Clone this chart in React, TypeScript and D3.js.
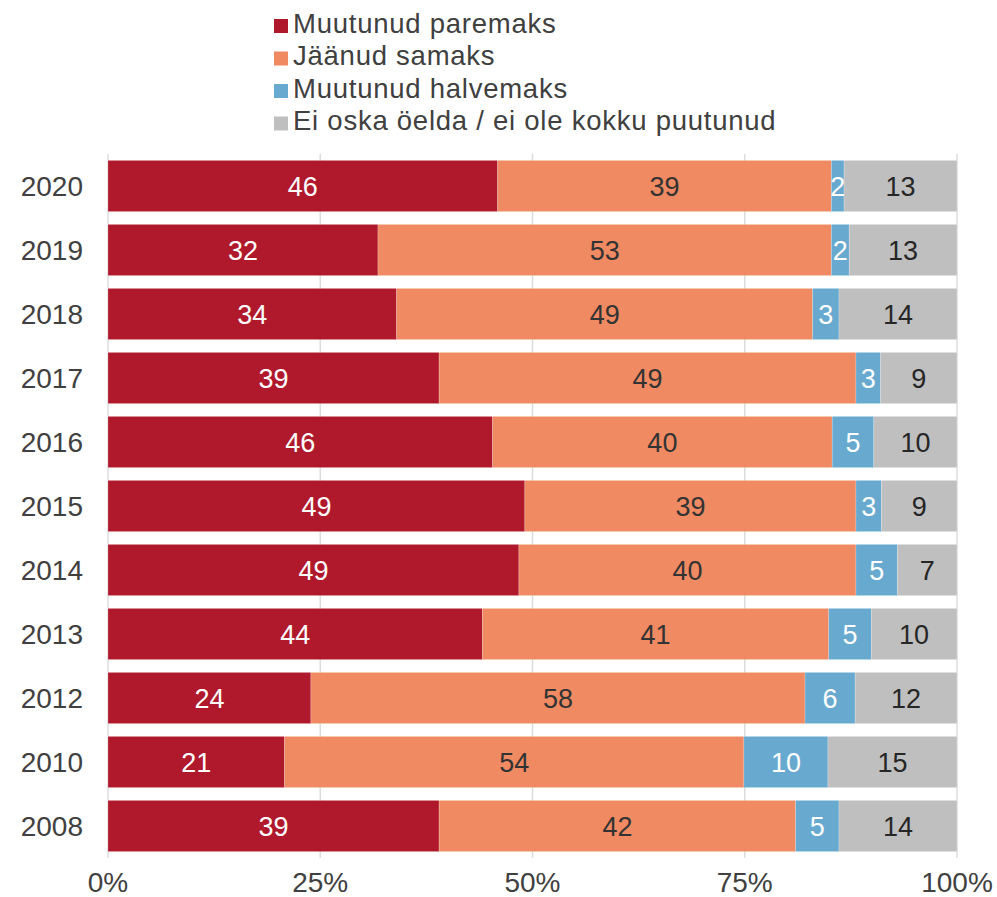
import React from "react";
import * as d3 from "d3";

const years = ["2020", "2019", "2018", "2017", "2016", "2015", "2014", "2013", "2012", "2010", "2008"];
// segment shares as measured from the bars
const better = [45.9, 31.8, 34.0, 39.0, 45.3, 49.1, 48.4, 44.1, 23.9, 20.8, 39.0];
const same = [39.3, 53.4, 49.0, 49.1, 40.0, 39.0, 39.7, 40.8, 58.2, 54.1, 42.0];
const worse = [1.5, 2.1, 3.1, 2.9, 4.9, 3.0, 4.9, 5.0, 5.9, 9.9, 5.1];
const dontKnow = [13.3, 12.7, 13.9, 9.0, 9.8, 8.9, 7.0, 10.1, 12.0, 15.2, 13.9];
// printed labels
const betterLabels = [46, 32, 34, 39, 46, 49, 49, 44, 24, 21, 39];
const sameLabels = [39, 53, 49, 49, 40, 39, 40, 41, 58, 54, 42];
const worseLabels = [2, 2, 3, 3, 5, 3, 5, 5, 6, 10, 5];
const dontKnowLabels = [13, 13, 14, 9, 10, 9, 7, 10, 12, 15, 14];

const seriesNames = ["Muutunud paremaks", "Jäänud samaks", "Muutunud halvemaks", "Ei oska öelda / ei ole kokku puutunud"];
const seriesColors = ["#b0182c", "#f08a62", "#67a9cf", "#bfbfbf"];
const labelColors = ["#ffffff", "#333333", "#ffffff", "#262626"];
const ticks = [0, 25, 50, 75, 100];

const W = 997;
const H = 897;
const FONT = "'Liberation Sans', Arial, Helvetica, sans-serif";

export default function App() {
  const x = d3.scaleLinear().domain([0, 100]).range([108, 957]);
  const y = d3.scaleBand<string>().domain(years).range([154, 858]).paddingInner(0.2).paddingOuter(0.1);

  const values = [better, same, worse, dontKnow];
  const labels = [betterLabels, sameLabels, worseLabels, dontKnowLabels];
  const rows = years.map((yr, i) => {
    const obj: any = { year: yr };
    values.forEach((v, k) => (obj["s" + k] = v[i]));
    return obj;
  });
  const stack = d3.stack<any>().keys(["s0", "s1", "s2", "s3"]).offset(d3.stackOffsetExpand);
  const stacked = stack(rows);

  return (
    <svg width={W} height={H} style={{ position: "absolute", left: 0, top: 0, fontFamily: FONT }}>
      {/* gridlines */}
      {ticks.map((t) => (
        <line key={"g" + t} x1={x(t)} x2={x(t)} y1={154} y2={858} stroke="#dcdcdc" strokeWidth={1.5} />
      ))}
      {/* bars */}
      {stacked.map((layer, k) => (
        <g key={"l" + k}>
          {layer.map((d, i) => {
            const x0 = x(d[0] * 100);
            const x1 = x(d[1] * 100);
            const yy = y(years[i])!;
            return (
              <g key={i}>
                <rect x={x0} y={yy} width={x1 - x0} height={y.bandwidth()} fill={seriesColors[k]} stroke="#ffffff" strokeOpacity={0.35} strokeWidth={0.6} />
                <text
                  x={(x0 + x1) / 2}
                  y={yy + y.bandwidth() / 2}
                  dy="0.36em"
                  textAnchor="middle"
                  fontSize={27}
                  fill={labelColors[k]}
                >
                  {labels[k][i]}
                </text>
              </g>
            );
          })}
        </g>
      ))}
      {/* year labels */}
      {years.map((yr) => (
        <text key={"y" + yr} x={83} y={y(yr)! + y.bandwidth() / 2} dy="0.36em" textAnchor="end" fontSize={28} fill="#404040">
          {yr}
        </text>
      ))}
      {/* x tick labels */}
      {ticks.map((t) => (
        <text key={"t" + t} x={x(t)} y={892} textAnchor="middle" fontSize={28} fill="#404040">
          {t + "%"}
        </text>
      ))}
      {/* legend */}
      {seriesNames.map((name, k) => (
        <g key={"lg" + k} transform={`translate(274, ${32.5 + k * 32.5})`}>
          <rect x={0} y={-13.5} width={14} height={14} fill={seriesColors[k]} />
          <text x={19} y={0} fontSize={27.5} letterSpacing={0.75} fill="#404040">
            {name}
          </text>
        </g>
      ))}
    </svg>
  );
}
